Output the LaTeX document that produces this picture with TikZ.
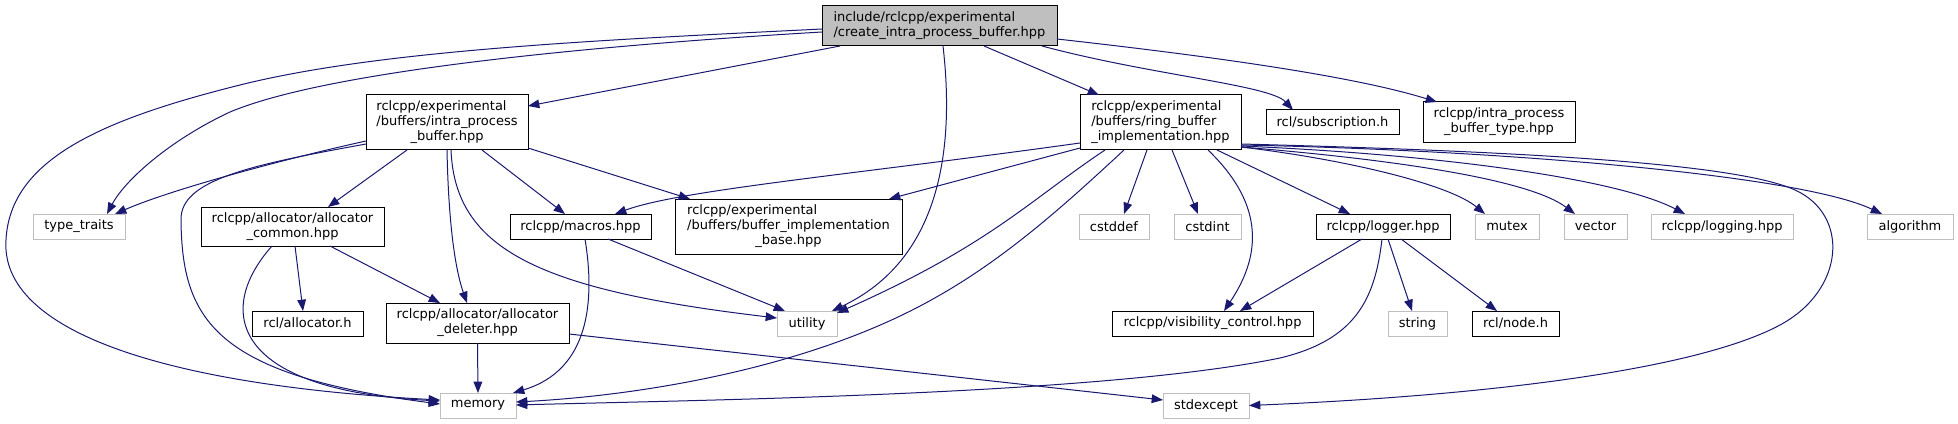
\documentclass[tikz,border=0pt]{standalone}
\usepackage{fontspec}
\setmainfont{DejaVu Sans}
\usetikzlibrary{arrows.meta}
\definecolor{edgec}{RGB}{25,25,112}
\definecolor{greyb}{RGB}{191,191,191}
\newcommand\twol[2]{\begin{tabular}{@{}l@{}}#1\\\multicolumn{1}{@{}c@{}}{#2}\end{tabular}}
\newcommand\threel[3]{\begin{tabular}{@{}l@{}}#1\\#2\\\multicolumn{1}{@{}c@{}}{#3}\end{tabular}}
\newcommand\mknode[7]{\node[#1,minimum width={(#4-#3)*0.75pt},minimum height={(#6-#5)*0.75pt}] (#2) at ({(#3+#4)/2},{(#5+#6)/2}) {#7};}
\tikzset{
 basen/.style={rectangle, inner sep=0pt, outer sep=0pt, line width=0.75pt, font=\fontsize{9.75}{11.25}\selectfont, text=black},
 docn/.style={basen, draw=black, fill=white},
 extn/.style={basen, draw=greyb, fill=white},
 rootn/.style={basen, draw=black, fill=greyb},
 edge/.style={draw=edgec, line width=0.75pt, -{Triangle[length=8.5pt,width=6.5pt]}},
}
\begin{document}
\begin{tikzpicture}[x=0.75pt,y=-0.75pt]
\useasboundingbox (0,0) rectangle (1958,424);
% row 1
\mknode{rootn}{root}{822}{1057}{6}{46}{\twol{include/rclcpp/experimental}{/create\_intra\_process\_buffer.hpp}}
% row 2
\mknode{docn}{intra}{366}{528}{95}{150}{\threel{rclcpp/experimental}{/buffers/intra\_process}{\_buffer.hpp}}
\mknode{docn}{ring}{1080}{1241}{95}{150}{\threel{rclcpp/experimental}{/buffers/ring\_buffer}{\_implementation.hpp}}
\mknode{docn}{subs}{1266}{1399}{110}{135}{rcl/subscription.h}
\mknode{docn}{ipbt}{1423}{1575}{102}{143}{\twol{rclcpp/intra\_process}{\_buffer\_type.hpp}}
% row 3
\mknode{extn}{tt}{33}{125}{214}{239}{type\_traits}
\mknode{docn}{ac}{201}{384}{207}{246}{\twol{rclcpp/allocator/allocator}{\_common.hpp}}
\mknode{docn}{macros}{510}{651}{214}{239}{rclcpp/macros.hpp}
\mknode{docn}{bib}{675}{902}{199}{254}{\threel{rclcpp/experimental}{/buffers/buffer\_implementation}{\_base.hpp}}
\mknode{extn}{cstddef}{1079}{1149}{214}{239}{cstddef}
\mknode{extn}{cstdint}{1174}{1241}{214}{239}{cstdint}
\mknode{docn}{logger}{1316}{1450}{214}{239}{rclcpp/logger.hpp}
\mknode{extn}{mutex}{1475}{1539}{214}{239}{mutex}
\mknode{extn}{vector}{1564}{1627}{214}{239}{vector}
\mknode{extn}{logging}{1651}{1793}{214}{239}{rclcpp/logging.hpp}
\mknode{extn}{algorithm}{1867}{1953}{214}{239}{algorithm}
% row 4
\mknode{docn}{rclalloc}{252}{363}{311}{336}{rcl/allocator.h}
\mknode{docn}{deleter}{386}{569}{303}{343}{\twol{rclcpp/allocator/allocator}{\_deleter.hpp}}
\mknode{extn}{utility}{777}{837}{311}{336}{utility}
\mknode{docn}{vis}{1112}{1313}{311}{336}{rclcpp/visibility\_control.hpp}
\mknode{extn}{string}{1388}{1447}{311}{336}{string}
\mknode{docn}{nodeh}{1472}{1559}{311}{336}{rcl/node.h}
% row 5
\mknode{extn}{memory}{440}{516}{393}{418}{memory}
\mknode{extn}{stdexcept}{1163}{1249}{393}{418}{stdexcept}

% root edges
\draw[edge] ([shift={(0,3)}]root.west) .. controls (600,40) and (380,50) .. (240,85)
  .. controls (100,120) and (10,160) .. (6,240)
  .. controls (0,330) and (160,385) .. ([shift={(0,-5.5)}]memory.west);
\draw[edge] ([shift={(0,6)}]root.west) .. controls (600,45) and (330,70) .. (230,112)
  .. controls (170,140) and (125,180) .. ([shift={(28,0)}]tt.north);
\draw[edge] ([shift={(18,0)}]root.south west) -- ([shift={(0,-16.5)}]intra.east);
\draw[edge] ([shift={(3.5,0)}]root.south) .. controls (955,150) and (940,260) .. ([shift={(-5,0)}]utility.north east);
\draw[edge] ([shift={(44.5,0)}]root.south) -- ([shift={(-61.5,0)}]ring.north);
\draw[edge] ([shift={(-15,0)}]root.south east) .. controls (1150,75) and (1270,85) .. ([shift={(-39.5,0)}]subs.north);
\draw[edge] ([shift={(0,13)}]root.east) .. controls (1200,55) and (1350,75) .. ([shift={(14,0)}]ipbt.north west);
% intra edges
\draw[edge] ([shift={(0,18.5)}]intra.west) .. controls (280,160) and (170,190) .. ([shift={(36,0)}]tt.north);
\draw[edge] ([shift={(0,21.5)}]intra.west) .. controls (250,165) and (180,180) .. (181,220)
  .. controls (182,320) and (215,375) .. ([shift={(0,-1.5)}]memory.west);
\draw[edge] ([shift={(-40,0)}]intra.south) -- ([shift={(35.5,0)}]ac.north);
\draw[edge] (intra.south) .. controls (448,200) and (452,260) .. ([shift={(-10.5,0)}]deleter.north);
\draw[edge] ([shift={(4,0)}]intra.south) .. controls (455,250) and (540,290) .. ([shift={(0,-5.5)}]utility.west);
\draw[edge] ([shift={(35,0)}]intra.south) -- ([shift={(-15.5,0)}]macros.north);
\draw[edge] ([shift={(0,-2)}]intra.south east) -- ([shift={(-98.5,0)}]bib.north);
% ring edges
\draw[edge] ([shift={(0,20.5)}]ring.west) .. controls (850,175) and (680,190) .. ([shift={(34.5,0)}]macros.north);
\draw[edge] ([shift={(0,-2)}]ring.south west) -- ([shift={(100.5,0)}]bib.north);
\draw[edge] ([shift={(-55.5,0)}]ring.south) .. controls (1030,200) and (990,245) .. ([shift={(0,2)}]utility.north east);
\draw[edge] ([shift={(-36.5,0)}]ring.south) .. controls (1070,200) and (1010,255) .. (940,295)
  .. controls (820,365) and (650,395) .. ([shift={(0,-3.5)}]memory.east);
\draw[edge] ([shift={(-13.5,0)}]ring.south) -- ([shift={(10,0)}]cstddef.north);
\draw[edge] ([shift={(11.5,0)}]ring.south) -- ([shift={(-9.5,0)}]cstdint.north);
\draw[edge] ([shift={(47.5,0)}]ring.south) .. controls (1260,200) and (1265,250) .. ([shift={(11.5,0)}]vis.north);
\draw[edge] ([shift={(56.5,0)}]ring.south) -- ([shift={(-33,0)}]logger.north);
\draw[edge] ([shift={(0,24.5)}]ring.east) .. controls (1350,160) and (1450,185) .. ([shift={(-22,0)}]mutex.north);
\draw[edge] ([shift={(0,24.5)}]ring.east) .. controls (1400,160) and (1530,180) .. ([shift={(-20.5,0)}]vector.north);
\draw[edge] ([shift={(0,23.5)}]ring.east) .. controls (1450,155) and (1620,180) .. ([shift={(-37,0)}]logging.north);
\draw[edge] ([shift={(0,22.5)}]ring.east) .. controls (1500,150) and (1800,175) .. ([shift={(-28,0)}]algorithm.north);
\draw[edge] ([shift={(0,21.5)}]ring.east) .. controls (1550,152) and (1740,165) .. (1795,190)
  .. controls (1850,215) and (1845,290) .. (1780,325)
  .. controls (1700,368) and (1500,395) .. (stdexcept.east);
% allocator common
\draw[edge] ([shift={(2.5,0)}]ac.south) -- ([shift={(-4.5,0)}]rclalloc.north);
\draw[edge] ([shift={(37.5,0)}]ac.south) -- ([shift={(-37.5,0)}]deleter.north);
\draw[edge] ([shift={(-20.5,0)}]ac.south) .. controls (215,310) and (230,390) .. ([shift={(0,-4.5)}]memory.west);
% deleter
\draw[edge] (deleter.south) -- (memory.north);
\draw[edge] ([shift={(0,11)}]deleter.east) -- ([shift={(0,-5.5)}]stdexcept.west);
% macros
\draw[edge] ([shift={(4.5,0)}]macros.south) .. controls (595,300) and (590,370) .. ([shift={(-3,0)}]memory.north east);
\draw[edge] ([shift={(27.5,0)}]macros.south) -- ([shift={(8,0)}]utility.north west);
% logger
\draw[edge] ([shift={(-21,0)}]logger.south) -- ([shift={(27.5,0)}]vis.north);
\draw[edge] ([shift={(5,0)}]logger.south) -- ([shift={(-5.5,0)}]string.north);
\draw[edge] ([shift={(18,0)}]logger.south) -- ([shift={(-18.5,0)}]nodeh.north);
\draw[edge] ([shift={(-1,0)}]logger.south) .. controls (1375,300) and (1355,340) .. (1280,358)
  .. controls (1100,395) and (700,400) .. ([shift={(0,-0.5)}]memory.east);
\end{tikzpicture}
\end{document}
